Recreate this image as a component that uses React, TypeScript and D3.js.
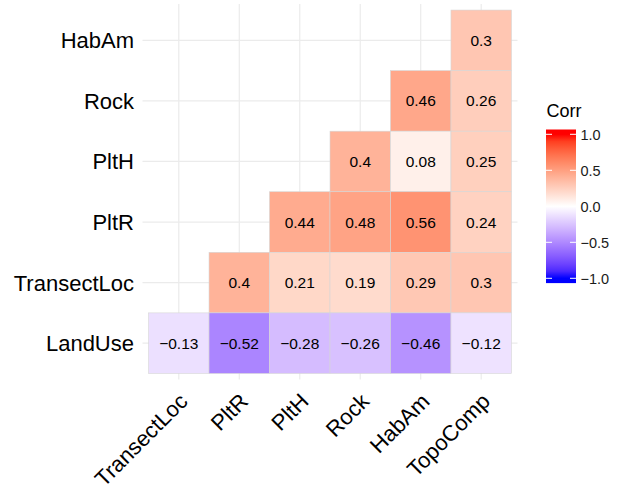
import React from "react";
import * as d3 from "d3";

// Correlation matrix, lower triangle only (null = not drawn)
const xVars = ["TransectLoc", "PltR", "PltH", "Rock", "HabAm", "TopoComp"];
const yVars = ["HabAm", "Rock", "PltH", "PltR", "TransectLoc", "LandUse"];

const rowHabAm = [null, null, null, null, null, 0.3];
const rowRock = [null, null, null, null, 0.46, 0.26];
const rowPltH = [null, null, null, 0.4, 0.08, 0.25];
const rowPltR = [null, null, 0.44, 0.48, 0.56, 0.24];
const rowTransectLoc = [null, 0.4, 0.21, 0.19, 0.29, 0.3];
const rowLandUse = [-0.13, -0.52, -0.28, -0.26, -0.46, -0.12];

const corrRows: (number | null)[][] = [rowHabAm, rowRock, rowPltH, rowPltR, rowTransectLoc, rowLandUse];

const legendTicks = [1.0, 0.5, 0.0, -0.5, -1.0];

const W = 624;
const H = 485;
const FONT = "'Liberation Sans', Arial, Helvetica, sans-serif";

const fmt = (v: number) => {
  const s = String(Math.round(v * 100) / 100);
  return s.replace("-", "\u2212");
};
const fmtTick = (v: number) => d3.format(".1f")(v).replace("-", "\u2212");

export default function App() {
  // panel area
  const x = d3.scalePoint<string>().domain(xVars).range([142.5, 517.5]).padding(0.6);
  const y = d3.scalePoint<string>().domain(yVars).range([4, 379.5]).padding(0.6);
  const sx = x.step();
  const sy = y.step();
  const panel = { x0: 142.5, x1: 517.5, y0: 4, y1: 379.5 };

  const fill = d3
    .scaleLinear<string>()
    .domain([-1, 0, 1])
    .range(["blue", "white", "red"])
    .interpolate(d3.interpolateLab)
    .clamp(true);

  const cells: { xv: string; yv: string; v: number }[] = [];
  corrRows.forEach((row, i) =>
    row.forEach((v, j) => {
      if (v !== null) cells.push({ xv: xVars[j], yv: yVars[i], v });
    })
  );

  // colour bar
  const barX = 546;
  const barW = 30;
  const leg = d3.scaleLinear().domain([1, -1]).range([134.3, 278.3]);
  const barTop = leg(1) - 4.8;
  const barBottom = leg(-1) + 4.8;
  const stops = d3.range(0, 21).map((k) => -1 + k * 0.1);

  return (
    <svg
      width={W}
      height={H}
      style={{ position: "absolute", left: 0, top: 0, background: "white" }}
      fontFamily={FONT}
    >
      <defs>
        <linearGradient id="corrGrad" x1="0" y1="1" x2="0" y2="0">
          {stops.map((s) => (
            <stop
              key={s}
              offset={(leg(s) - barBottom) / (barTop - barBottom)}
              stopColor={fill(s)}
            />
          ))}
        </linearGradient>
      </defs>
      <rect width={W} height={H} fill="white" />

      {/* grid */}
      <g stroke="#ebebeb" strokeWidth={1.2}>
        {xVars.map((v) => (
          <line key={v} x1={x(v)} x2={x(v)} y1={panel.y0} y2={panel.y1} />
        ))}
        {yVars.map((v) => (
          <line key={v} x1={panel.x0} x2={panel.x1} y1={y(v)} y2={y(v)} />
        ))}
      </g>

      {/* tiles */}
      <g>
        {cells.map((c) => (
          <rect
            key={c.xv + c.yv}
            x={(x(c.xv) as number) - sx / 2}
            y={(y(c.yv) as number) - sy / 2}
            width={sx}
            height={sy}
            fill={fill(c.v)}
            stroke="#d6d6d6"
            strokeWidth={0.6}
          />
        ))}
      </g>

      {/* values */}
      <g fontSize={15.5} fill="#000" textAnchor="middle">
        {cells.map((c) => (
          <text
            key={c.xv + c.yv}
            x={x(c.xv)}
            y={y(c.yv)}
            dy="0.36em"
          >
            {fmt(c.v)}
          </text>
        ))}
      </g>

      {/* y axis labels */}
      <g fontSize={22} fill="#000" textAnchor="end">
        {yVars.map((v) => (
          <text key={v} x={134} y={y(v)} dy="0.36em">
            {v}
          </text>
        ))}
      </g>

      {/* x axis labels */}
      <g fontSize={22} fill="#000" textAnchor="end">
        {xVars.map((v) => (
          <text
            key={v}
            transform={`translate(${(x(v) as number) - 1},${panel.y1 + 12}) rotate(-45)`}
            dy="0.72em"
          >
            {v}
          </text>
        ))}
      </g>

      {/* legend */}
      <text x={546.5} y={117} fontSize={18} fill="#000">
        Corr
      </text>
      <rect x={barX} y={barTop} width={barW} height={barBottom - barTop} fill="url(#corrGrad)" />
      <g stroke="white" strokeWidth={1}>
        {legendTicks.map((t) => (
          <g key={t}>
            <line x1={barX} x2={barX + 6} y1={leg(t)} y2={leg(t)} />
            <line x1={barX + barW - 6} x2={barX + barW} y1={leg(t)} y2={leg(t)} />
          </g>
        ))}
      </g>
      <g fontSize={14.5} fill="#1a1a1a">
        {legendTicks.map((t) => (
          <text key={t} x={580.5} y={leg(t)} dy="0.36em">
            {fmtTick(t)}
          </text>
        ))}
      </g>
    </svg>
  );
}
